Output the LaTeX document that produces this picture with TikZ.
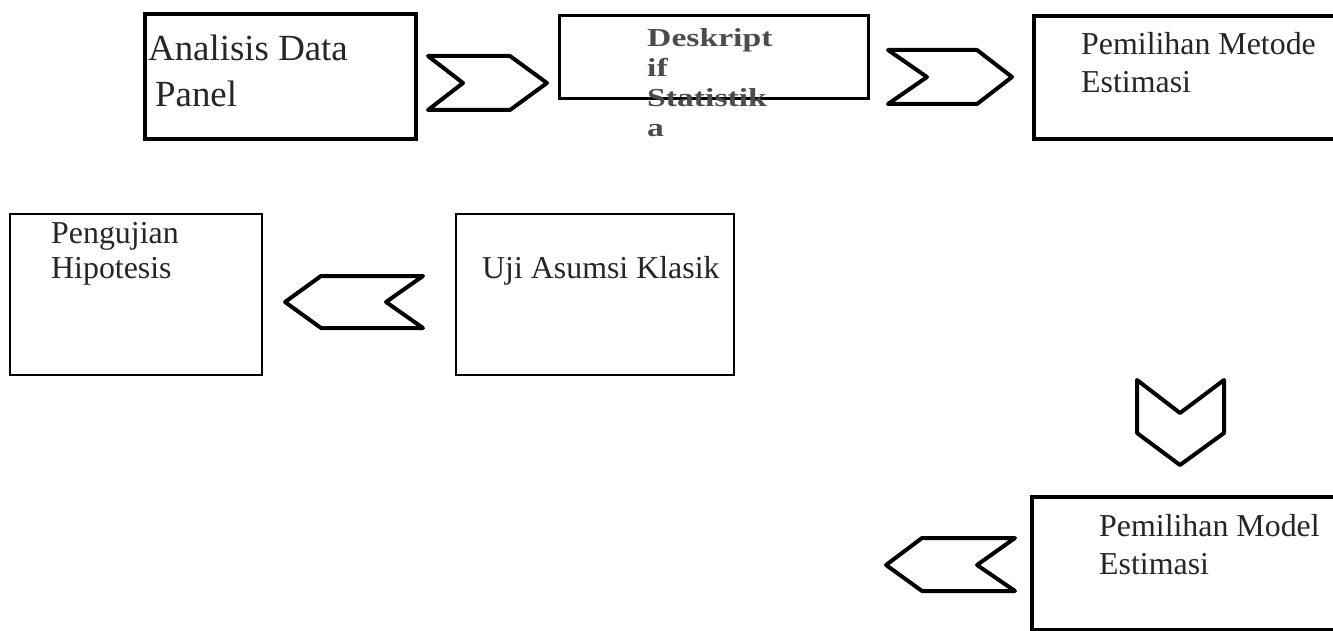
\documentclass[tikz,border=0pt]{standalone}
\usepackage{fontspec}
\setmainfont{Liberation Serif}
\newfontfamily\widefont[FakeStretch=1.3]{Liberation Serif}
\begin{document}
\begin{tikzpicture}[x=1bp,y=-1bp,
  box/.style={draw=black, fill=white, rectangle, inner sep=0pt, anchor=north west},
  thickbox/.style={box, line width=4bp},
  thinbox/.style={box, line width=2.2bp},
  lbl/.style={inner sep=0pt, anchor=base west, text=black!85, font=\fontsize{32}{38}\selectfont},
  biglbl/.style={lbl, font=\fontsize{37}{44}\selectfont},
  widelbl/.style={inner sep=0pt, anchor=base west, text=black!70, font=\widefont\bfseries\fontsize{26}{30}\selectfont},
  chevron/.style={draw=black, line width=4bp, line join=round, line cap=round}]
\useasboundingbox (0,0) rectangle (1333,631);
\clip (0,0) rectangle (1333,631);

% boxes
\node[thickbox, minimum width=271bp, minimum height=125bp] (b1) at (143,12) {};
\node[box, line width=3bp, minimum width=309bp, minimum height=83bp] (b2) at (558,14) {};
\node[thickbox, minimum width=305bp, minimum height=123bp] (b3) at (1032,14) {};
\node[thinbox, minimum width=252bp, minimum height=161bp] (b4) at (9,213) {};
\node[thinbox, minimum width=278bp, minimum height=161bp] (b5) at (455,213) {};
\node[thickbox, minimum width=307bp, minimum height=133bp] (b6) at (1030,495) {};

% texts
\node[biglbl] (t1a) at (148,61) {Analisis Data};
\node[biglbl] (t1b) at (155,107) {Panel};
\node[widelbl] (t2a) at (647,47) {Deskript};
\node[widelbl] (t2b) at (647,77) {if};
\node[widelbl] (t2c) at (647,107) {Statistik};
\node[widelbl] (t2d) at (647,137) {a};
\node[lbl] (t3a) at (1081,55) {Pemilihan Metode};
\node[lbl] (t3b) at (1081,93) {Estimasi};
\node[lbl] (t4a) at (51,243) {Pengujian};
\node[lbl] (t4b) at (51,278) {Hipotesis};
\node[lbl] (t5a) at (482,278) {Uji Asumsi Klasik};
\node[lbl] (t6a) at (1099,536) {Pemilihan Model};
\node[lbl] (t6b) at (1099,574) {Estimasi};

% chevrons
\draw[chevron] (428,56) -- (510,56) -- (547,83) -- (510,110) -- (428,110) -- (463,83) -- cycle;
\draw[chevron] (888,50) -- (977,50) -- (1012,77) -- (977,104) -- (888,104) -- (927,77) -- cycle;
\draw[chevron] (423,276) -- (321,276) -- (285,302) -- (321,328) -- (423,328) -- (386,302) -- cycle;
\draw[chevron] (1137,380) -- (1180,413) -- (1224,380) -- (1224,433) -- (1180,465) -- (1137,433) -- cycle;
\draw[chevron] (1015,538) -- (922,538) -- (886,565) -- (922,591) -- (1015,591) -- (977,565) -- cycle;
\end{tikzpicture}
\end{document}
